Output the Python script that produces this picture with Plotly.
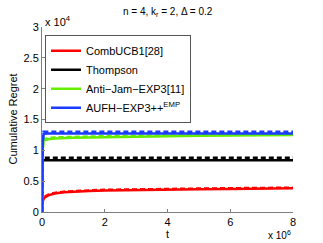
import plotly.graph_objects as go

# t in units of 1e6, regret in units of 1e4
t = [0, 0.02, 0.05, 0.1, 0.2, 0.4, 0.7, 1.0, 1.5, 2.0, 3.0, 4.0, 5.0, 6.0, 7.0, 8.0]
comb_solid = [0, 0.17, 0.21, 0.24, 0.27, 0.30, 0.32, 0.33, 0.34, 0.35, 0.36, 0.365, 0.37, 0.375, 0.38, 0.385]
comb_dash = [0, 0.18, 0.22, 0.25, 0.28, 0.31, 0.33, 0.34, 0.35, 0.36, 0.37, 0.375, 0.38, 0.385, 0.39, 0.395]
thom_solid = [0, 0.83, 0.84, 0.84, 0.84, 0.84, 0.84, 0.84, 0.84, 0.84, 0.84, 0.84, 0.84, 0.84, 0.84, 0.84]
thom_dash = [0, 0.87, 0.88, 0.88, 0.88, 0.88, 0.88, 0.88, 0.88, 0.88, 0.88, 0.88, 0.88, 0.88, 0.88, 0.88]
anti_solid = [0, 1.0, 1.16, 1.17, 1.18, 1.19, 1.20, 1.205, 1.21, 1.215, 1.22, 1.23, 1.235, 1.24, 1.245, 1.25]
anti_dash = [0, 1.02, 1.18, 1.19, 1.20, 1.21, 1.215, 1.22, 1.225, 1.23, 1.235, 1.24, 1.245, 1.25, 1.255, 1.26]
aufh_solid = [0, 1.10, 1.27, 1.275, 1.275, 1.275, 1.275, 1.275, 1.275, 1.275, 1.275, 1.275, 1.275, 1.275, 1.275, 1.275]
aufh_dash = [0, 1.12, 1.30, 1.30, 1.30, 1.30, 1.30, 1.30, 1.30, 1.30, 1.30, 1.30, 1.30, 1.30, 1.30, 1.30]

x_ticks = [0, 2, 4, 6, 8]
y_ticks = [0, 0.5, 1, 1.5, 2, 2.5, 3]
y_tick_text = ["0", "0.5", "1", "1.5", "2", "2.5", "3"]

names = ["CombUCB1[28]", "Thompson", "Anti\u2212Jam\u2212EXP3[11]", "AUFH\u2212EXP3++<sup>EMP</sup>"]
colors = ["#ff0000", "#000000", "#66ee00", "#1a3cff"]
solids = [comb_solid, thom_solid, anti_solid, aufh_solid]
dashes = [comb_dash, thom_dash, anti_dash, aufh_dash]

FAM = "Liberation Sans, Arial, sans-serif"

fig = go.Figure()
for name, c, s, d in zip(names, colors, solids, dashes):
    fig.add_trace(go.Scatter(x=t, y=s, mode="lines", name=name,
                             line=dict(color=c, width=2.5), showlegend=True))
    fig.add_trace(go.Scatter(x=t, y=d, mode="lines", name=name,
                             line=dict(color=c, width=2.5, dash="5px,3px"), showlegend=False))

font = dict(family=FAM, size=11, color="#000")
axis_common = dict(showline=True, linecolor="#7f7f7f", linewidth=1, mirror=False,
                   ticks="inside", ticklen=3, tickcolor="#7f7f7f", showgrid=False,
                   zeroline=False, tickfont=font)

fig.update_layout(
    width=323, height=243,
    margin=dict(l=42, r=30, t=27, b=31),
    paper_bgcolor="white", plot_bgcolor="white",
    showlegend=True,
    legend=dict(x=0.012, y=0.955, xanchor="left", yanchor="top",
                bordercolor="#555", borderwidth=1, bgcolor="white",
                font=dict(family=FAM, size=11, color="#000"),
                tracegroupgap=0, itemwidth=30),
    xaxis=dict(range=[0, 8], tickvals=x_ticks, **axis_common),
    yaxis=dict(range=[0, 3], tickvals=y_ticks, ticktext=y_tick_text, **axis_common),
    annotations=[
        dict(text="n = 4, k<sub>r</sub> = 2, \u0394 = 0.2", x=0.5, y=1, xref="paper", yref="paper",
             xanchor="center", yanchor="bottom", yshift=7, showarrow=False,
             font=dict(family=FAM, size=10, color="#000")),
        dict(text="x 10<sup>4</sup>", x=0, y=1, xref="paper", yref="paper",
             xanchor="left", yanchor="bottom", xshift=1, yshift=-3, showarrow=False, font=font),
        dict(text="x 10<sup>6</sup>", x=1, y=0, xref="paper", yref="paper",
             xanchor="right", yanchor="top", xshift=0, yshift=-15, showarrow=False,
             font=dict(family=FAM, size=10, color="#000")),
        dict(text="t", x=0.5, y=0, xref="paper", yref="paper", xanchor="center", yanchor="top",
             yshift=-14, showarrow=False, font=font),
        dict(text="Cumulative Regret", x=0, y=0.5, xref="paper", yref="paper", textangle=-90,
             xanchor="right", yanchor="middle", xshift=-22, showarrow=False, font=font),
    ],
)

fig.write_html("out.html", config={"displayModeBar": False},
               post_script="document.body.style.margin='0';document.body.style.padding='0';")
